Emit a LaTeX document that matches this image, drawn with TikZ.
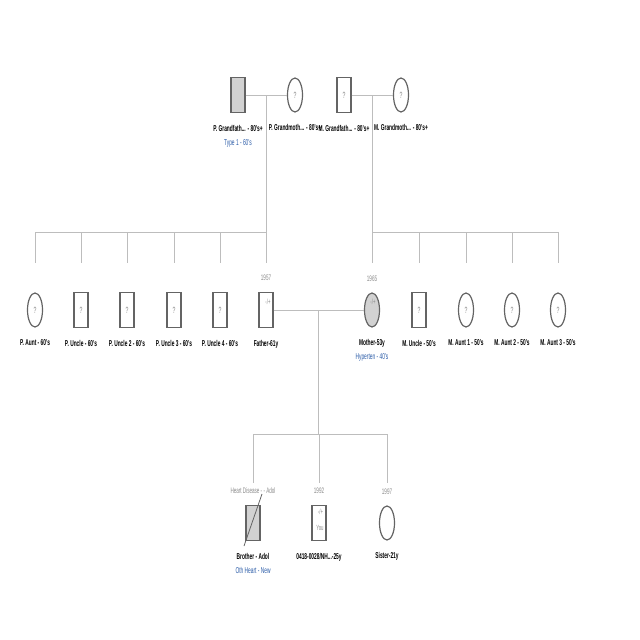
\documentclass[tikz,border=0pt]{standalone}
\usepackage{fontspec}
\setmainfont[FakeStretch=0.57]{Liberation Sans}
\usetikzlibrary{positioning,shapes.geometric,calc}
\definecolor{pedline}{HTML}{646464}
\definecolor{pedfill}{HTML}{D2D2D2}
\definecolor{pedconn}{HTML}{BDBDBD}
\definecolor{pedblue}{HTML}{2B5CA8}
\definecolor{pedgray}{HTML}{8A8A8A}
\begin{document}
\begin{tikzpicture}[
		x=1pt, y=-1pt,
		% osebe
		male/.style={rectangle, draw=pedline, line width=1.2pt, minimum width=14pt, minimum height=35pt, inner sep=0pt, text=pedgray, font=\fontsize{9}{10}\selectfont},
		female/.style={ellipse, draw=pedline, line width=1.2pt, minimum width=15pt, minimum height=34pt, inner sep=0pt, text=pedgray, font=\fontsize{9}{10}\selectfont},
		affected/.style={fill=pedfill},
		% povezave
		connector/.style={draw=pedconn, line width=0.7pt},
		% napisi
		namelab/.style={font=\bfseries\fontsize{8.5}{9}\selectfont, inner sep=0pt, text height=6pt, text depth=1.5pt},
		condlab/.style={font=\fontsize{8.5}{9}\selectfont, text=pedblue, inner sep=0pt, text height=6pt, text depth=1.5pt},
		yearlab/.style={font=\fontsize{8}{9}\selectfont, text=pedgray, inner sep=0pt, text height=5.5pt, text depth=0pt},
		gentext/.style={font=\fontsize{7.5}{8}\selectfont, text=pedgray, inner sep=0pt},
		]
		\fill[white] (0,0) rectangle (640,640);
		\useasboundingbox (0,0) rectangle (640,640);

		% stari starsi
		\node (pgf) [male, affected] at (238,95) {};
		\node (pgm) [female] at (295,95) {?};
		\node (mgf) [male] at (344,95) {?};
		\node (mgm) [female] at (401,95) {?};
		\node (pgflab) [namelab, below=12pt of pgf] {P. Grandfath... - 80's+};
		\node (pgfcond) [condlab, below=6pt of pgflab] {Type 1 - 60's};
		\node (pgmlab) [namelab, below=12pt of pgm] {P. Grandmoth... - 80's+};
		\node (mgflab) [namelab, below=12pt of mgf] {M. Grandfath... - 80's+};
		\node (mgmlab) [namelab, below=12pt of mgm] {M. Grandmoth... - 80's+};

		% starsi, strici in tete
		\node (paunt) [female] at (35,310) {?};
		\node (punc1) [male] at (81,310) {?};
		\node (punc2) [male] at (127,310) {?};
		\node (punc3) [male] at (174,310) {?};
		\node (punc4) [male] at (220,310) {?};
		\node (father) [male] at (266,310) {};
		\node (mother) [female, affected] at (372,310) {};
		\node (munc) [male] at (419,310) {?};
		\node (maunt1) [female] at (466,310) {?};
		\node (maunt2) [female] at (512,310) {?};
		\node (maunt3) [female] at (558,310) {?};
		\node (fathergen) [gentext] at ([xshift=2pt,yshift=8pt]father.center) {-/+};
		\node (mothergen) [gentext] at ([xshift=1pt,yshift=8pt]mother.center) {-/+};
		\node (fatheryear) [yearlab, above=11pt of father] {1957};
		\node (motheryear) [yearlab, above=11pt of mother] {1965};
		\node (pauntlab) [namelab, below=12pt of paunt] {P. Aunt - 60's};
		\node (punc1lab) [namelab, below=12pt of punc1] {P. Uncle - 60's};
		\node (punc2lab) [namelab, below=12pt of punc2] {P. Uncle 2 - 60's};
		\node (punc3lab) [namelab, below=12pt of punc3] {P. Uncle 3 - 60's};
		\node (punc4lab) [namelab, below=12pt of punc4] {P. Uncle 4 - 60's};
		\node (fatherlab) [namelab, below=12pt of father] {Father-61y};
		\node (motherlab) [namelab, below=12pt of mother] {Mother-53y};
		\node (mothercond) [condlab, below=6pt of motherlab] {Hyperten - 40's};
		\node (munclab) [namelab, below=12pt of munc] {M. Uncle - 50's};
		\node (maunt1lab) [namelab, below=12pt of maunt1] {M. Aunt 1 - 50's};
		\node (maunt2lab) [namelab, below=12pt of maunt2] {M. Aunt 2 - 50's};
		\node (maunt3lab) [namelab, below=12pt of maunt3] {M. Aunt 3 - 50's};

		% otroci
		\node (brother) [male, affected] at (253,523) {};
		\node (you) [male] at (319,523) {};
		\node (sister) [female] at (387,523) {};
		\node (yougen) [gentext] at ([xshift=1.5pt,yshift=11pt]you.center) {-/+};
		\node (youtxt) [gentext] at ([xshift=1pt,yshift=-4.5pt]you.center) {You};
		\node (brotheryear) [yearlab, above=11pt of brother] {Heart Disease - - Adol};
		\node (youyear) [yearlab, above=11pt of you] {1992};
		\node (sisteryear) [yearlab, above=11pt of sister] {1997};
		\node (brotherlab) [namelab, below=12pt of brother] {Brother - Adol};
		\node (brothercond) [condlab, below=6pt of brotherlab] {Oth Heart - New};
		\node (youlab) [namelab, below=12pt of you] {0418-0028/NH...-25y};
		\node (sisterlab) [namelab, below=12pt of sister] {Sister-21y};
		\draw[pedline, line width=0.8pt] ($(brother)+(-9,23)$) -- ($(brother)+(9,-29)$);

		% zakonske in otroske povezave
		\coordinate (pc) at ($(pgf.east)!0.5!(pgm.west)$);
		\coordinate (mc) at ($(mgf.east)!0.5!(mgm.west)$);
		\coordinate (fc) at ($(father.east)!0.5!(mother.west)$);
		\coordinate (sibrow) at (0,232);
		\coordinate (droprow) at (0,263);
		\coordinate (kidrow) at (0,434);
		\coordinate (kiddrop) at (0,483);
		\draw[connector] (pgf.east) -- (pgm.west);
		\draw[connector] (mgf.east) -- (mgm.west);
		\draw[connector] (father.east) -- (mother.west);
		\draw[connector] (pc) -- (pc |- sibrow);
		\draw[connector] (mc) -- (mc |- sibrow);
		\draw[connector] (fc) -- (fc |- kidrow);
		\draw[connector] (paunt |- sibrow) -- (father |- sibrow);
		\draw[connector] (mother |- sibrow) -- (maunt3 |- sibrow);
		\draw[connector] (brother |- kidrow) -- (sister |- kidrow);
		\foreach \k in {paunt,punc1,punc2,punc3,punc4,father,mother,munc,maunt1,maunt2,maunt3}
			\draw[connector] (\k |- sibrow) -- (\k |- droprow);
		\foreach \k in {brother,you,sister}
			\draw[connector] (\k |- kidrow) -- (\k |- kiddrop);
	\end{tikzpicture}
\end{document}
